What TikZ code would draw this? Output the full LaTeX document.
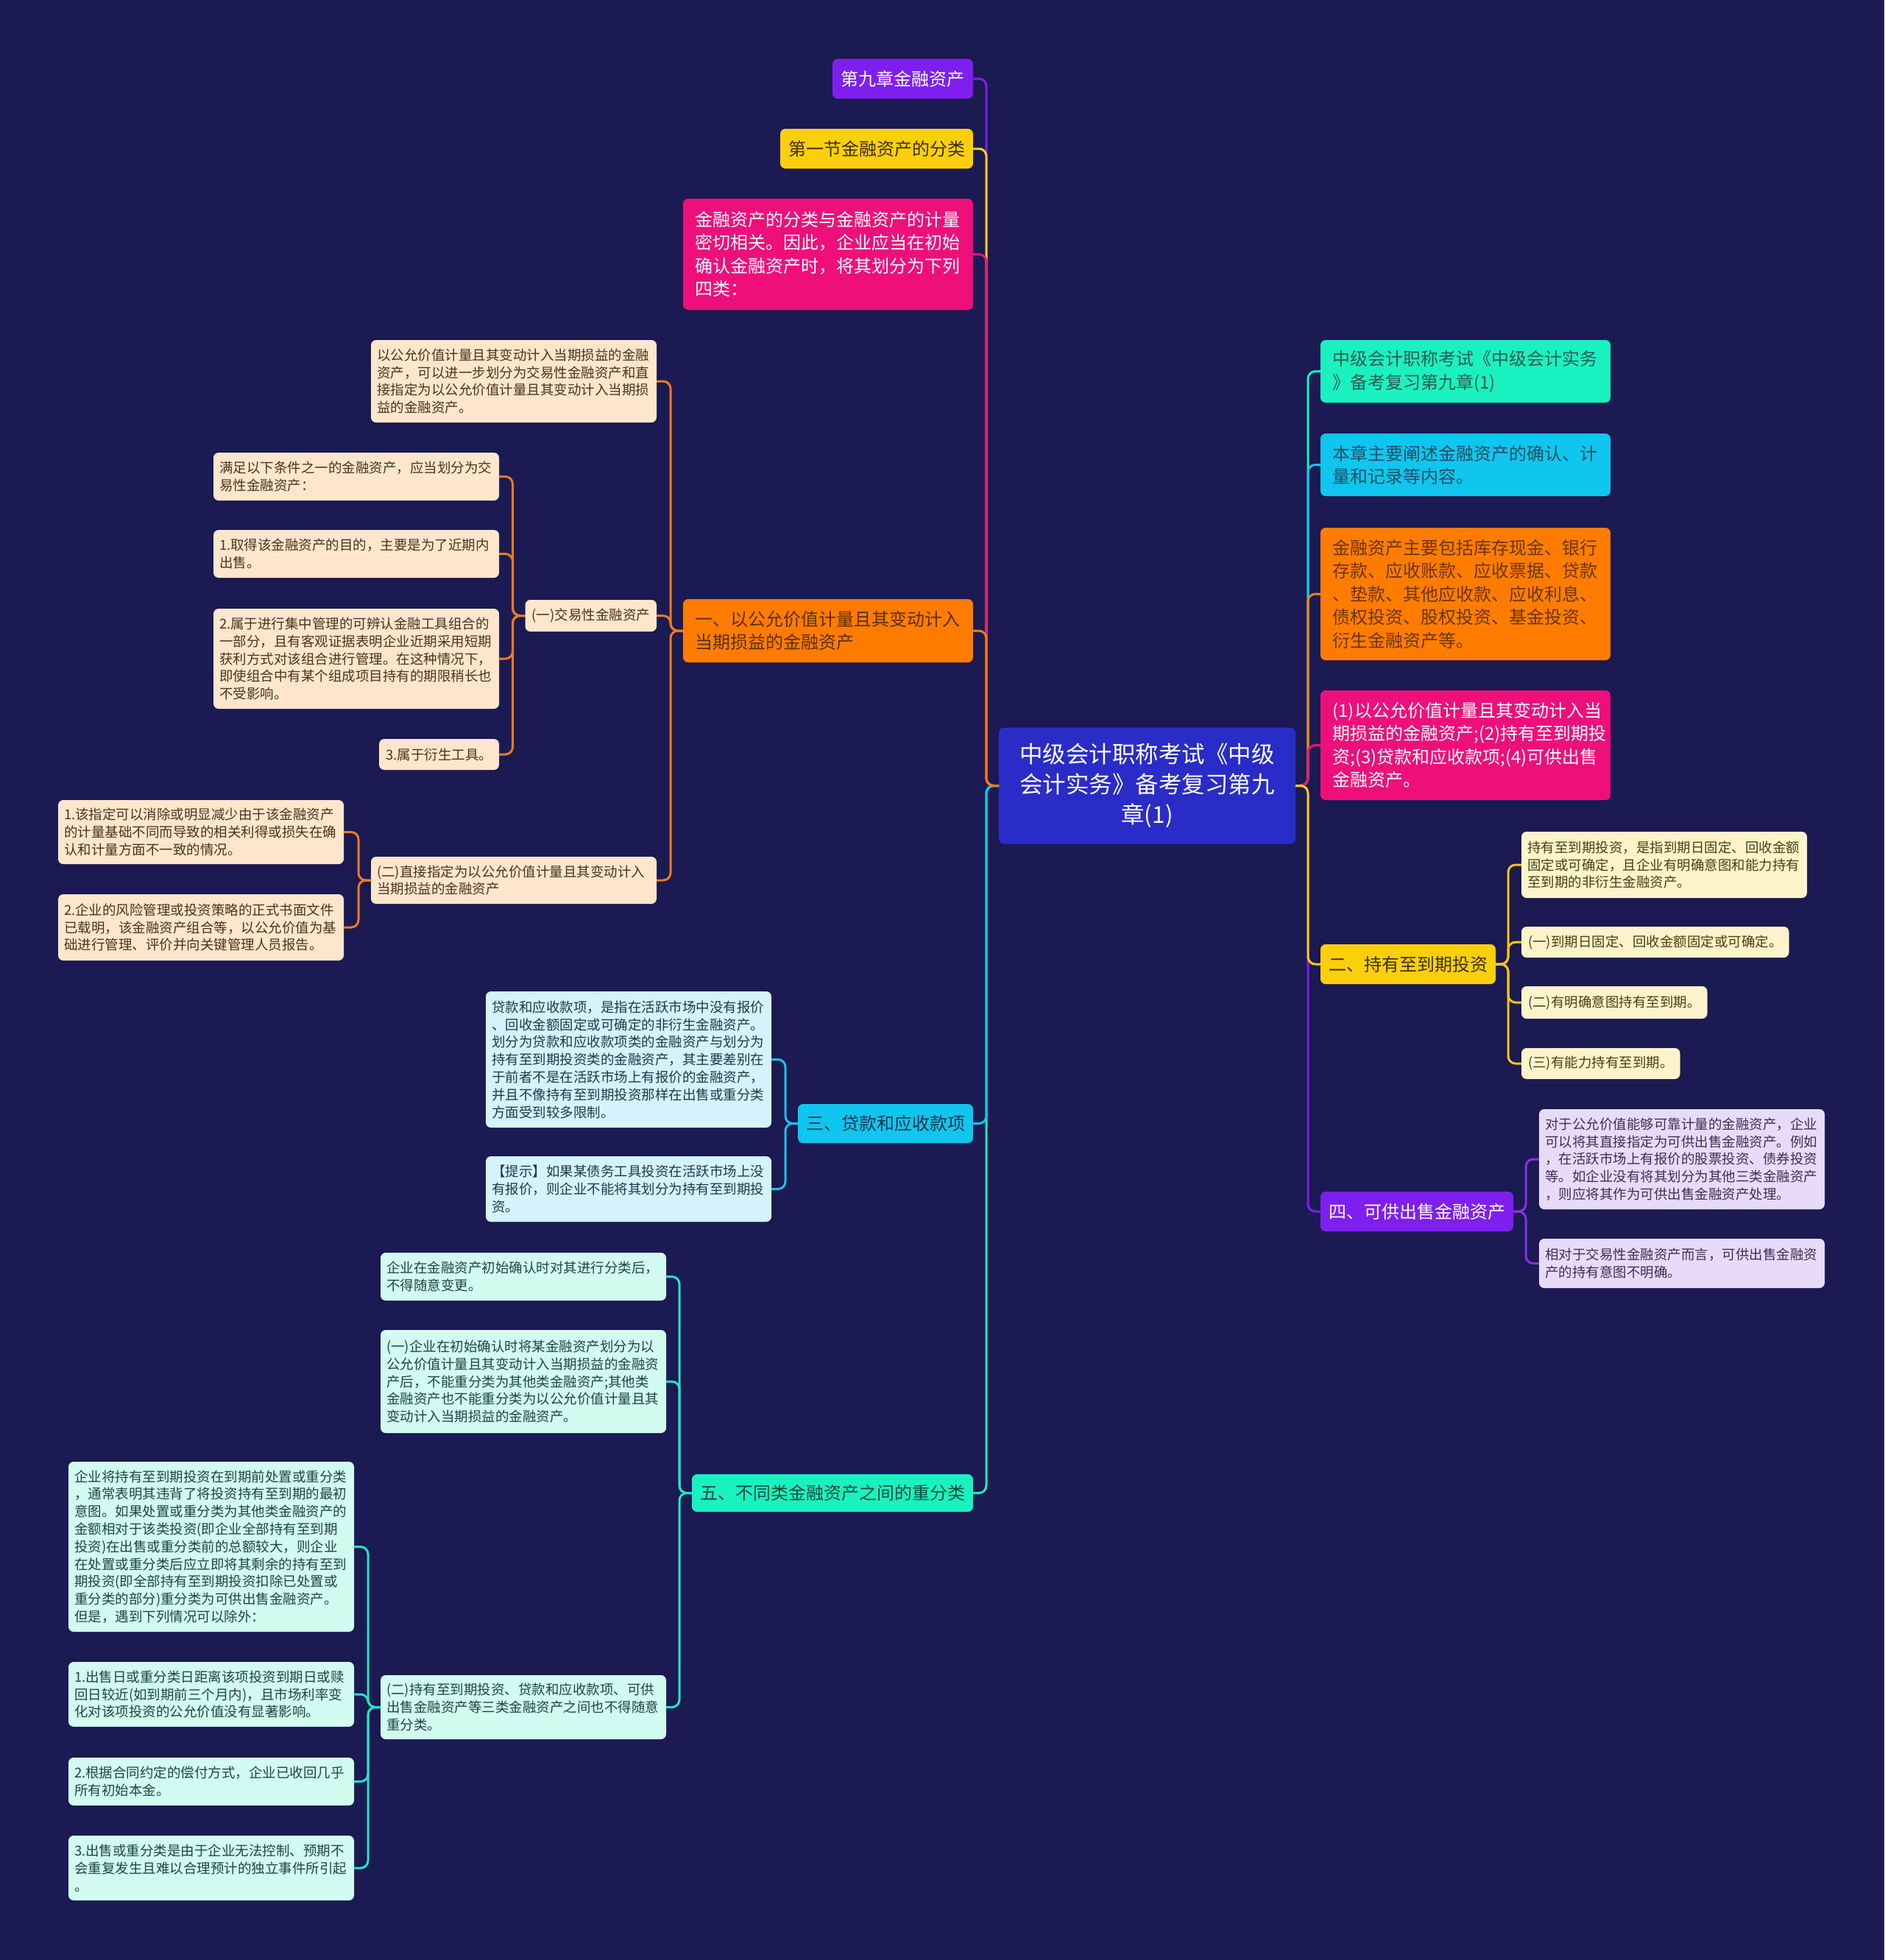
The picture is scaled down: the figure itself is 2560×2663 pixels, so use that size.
\documentclass[tikz,border=0pt]{standalone}
\usepackage{fontspec}
\newfontfamily\cjk{Noto Sans CJK SC}
\definecolor{bg}{HTML}{1B1A52}
\definecolor{cpurple}{HTML}{7E1FEF}
\definecolor{cyellow}{HTML}{FCCF0C}
\definecolor{cpink}{HTML}{EF0F7A}
\definecolor{corange}{HTML}{FF7C00}
\definecolor{ccyan}{HTML}{10C6EE}
\definecolor{cteal}{HTML}{19F2C0}
\definecolor{croot}{HTML}{2A2CC8}
\definecolor{lorange}{HTML}{FDE6CC}
\definecolor{lcyan}{HTML}{D4F3FB}
\definecolor{lteal}{HTML}{D2FCF0}
\definecolor{lyellow}{HTML}{FEF4CC}
\definecolor{lpurple}{HTML}{E7DBF9}
\definecolor{torange}{HTML}{4A3420}
\definecolor{tcyan}{HTML}{1F3A48}
\definecolor{tteal}{HTML}{1F4540}
\definecolor{tyellow}{HTML}{4A3F10}
\definecolor{tpurple}{HTML}{3F2E55}
\definecolor{kOrange}{HTML}{5A2E00}
\definecolor{kYellow}{HTML}{3A3000}
\definecolor{kCyan}{HTML}{0F3550}
\definecolor{kTeal}{HTML}{0F4A3A}
\definecolor{kTealR}{HTML}{2F5A50}
\definecolor{kCyanR}{HTML}{1F4F66}
\definecolor{kOrangeR}{HTML}{6A3500}
\definecolor{lnO}{HTML}{F07A20}
\definecolor{lnC}{HTML}{20C0EA}
\definecolor{lnT}{HTML}{20E6C4}
\definecolor{lnY}{HTML}{F5C810}
\definecolor{lnP}{HTML}{8A30E8}
\newcommand\myfsmall{\cjk\fontsize{18.5pt}{23.8pt}\selectfont}
\newcommand\myfmid{\cjk\fontsize{24pt}{31.5pt}\selectfont}
\newcommand\myfroot{\cjk\fontsize{31.5pt}{41pt}\selectfont}
\newcommand\myLC[3]{\draw[conn,#1] (#2.west) -- ++(-17,0) |- (#3.east);}
\newcommand\myRC[3]{\draw[conn,#1] (#2.east) -- ++(17,0) |- (#3.west);}
\begin{document}
\begin{tikzpicture}[x=1pt,y=-1pt,
  nd/.style={rounded corners=7pt, inner ysep=0pt, align=left, outer sep=0pt},
  smm/.style={nd, font=\myfsmall, text width=372pt, inner xsep=8pt},
  smone/.style={nd, font=\myfsmall, inner xsep=9pt, minimum height=42pt},
  mdm/.style={nd, font=\myfmid, text width=361pt, inner xsep=16.5pt},
  mdone/.style={nd, font=\myfmid, inner xsep=11pt, minimum height=54pt},
  boxO/.style={fill=lorange, text=torange},
  boxC/.style={fill=lcyan, text=tcyan},
  boxT/.style={fill=lteal, text=tteal},
  boxY/.style={fill=lyellow, text=tyellow},
  boxP/.style={fill=lpurple, text=tpurple},
  conn/.style={line width=3pt, rounded corners=10pt}]
\useasboundingbox (0,0) rectangle (2560,2663);
\fill[bg] (0,0) rectangle (2560,2663);

% root
\node[nd, fill=croot, text=white, font=\myfroot, text width=350pt, align=center,
  inner xsep=0pt, minimum width=403pt, minimum height=158pt] (root) at (1558.5,1067.5)
  {中级会计职称考试《中级\\会计实务》备考复习第九\\章(1)};

% left main
\node[mdone, fill=cpurple, text=white, inner xsep=11.5pt, anchor=east] (l1) at (1322,107) {第九章金融资产};
\node[mdone, fill=cyellow, text=kYellow, anchor=east] (l2) at (1322,202) {第一节金融资产的分类};
\node[mdm, fill=cpink, text=white, minimum height=151pt, anchor=east] (l3) at (1322,345.5)
  {金融资产的分类与金融资产的计量\\密切相关。因此，企业应当在初始\\确认金融资产时，将其划分为下列\\四类：};
\node[mdm, fill=corange, text=kOrange, minimum height=86pt, anchor=east] (a) at (1322,857)
  {一、以公允价值计量且其变动计入\\当期损益的金融资产};
\node[mdone, fill=ccyan, text=kCyan, minimum height=53pt, anchor=east] (c) at (1322,1526.5) {三、贷款和应收款项};
\node[mdone, fill=cteal, text=kTeal, minimum height=51pt, anchor=east] (e) at (1322,2028.5) {五、不同类金融资产之间的重分类};

% children of a
\node[smm, boxO, minimum height=112pt, anchor=east] (a1) at (892,518)
  {以公允价值计量且其变动计入当期损益的金融\\资产，可以进一步划分为交易性金融资产和直\\接指定为以公允价值计量且其变动计入当期损\\益的金融资产。};
\node[smone, boxO, minimum height=43pt, anchor=east] (a2) at (892,836.5) {(一)交易性金融资产};
\node[smm, boxO, minimum height=64pt, anchor=east] (a3) at (892,1196)
  {(二)直接指定为以公允价值计量且其变动计入\\当期损益的金融资产};

% children of a2
\node[smm, boxO, minimum height=65pt, anchor=east] (a21) at (678,647.5)
  {满足以下条件之一的金融资产，应当划分为交\\易性金融资产：};
\node[smm, boxO, minimum height=65pt, anchor=east] (a22) at (678,752.5)
  {1.取得该金融资产的目的，主要是为了近期内\\出售。};
\node[smm, boxO, minimum height=136pt, anchor=east] (a23) at (678,895)
  {2.属于进行集中管理的可辨认金融工具组合的\\一部分，且有客观证据表明企业近期采用短期\\获利方式对该组合进行管理。在这种情况下，\\即使组合中有某个组成项目持有的期限稍长也\\不受影响。};
\node[smone, boxO, anchor=east] (a24) at (678,1025) {3.属于衍生工具。};

% children of a3
\node[smm, boxO, minimum height=87pt, anchor=east] (a31) at (467,1130.5)
  {1.该指定可以消除或明显减少由于该金融资产\\的计量基础不同而导致的相关利得或损失在确\\认和计量方面不一致的情况。};
\node[smm, boxO, minimum height=90pt, anchor=east] (a32) at (467,1260)
  {2.企业的风险管理或投资策略的正式书面文件\\已载明，该金融资产组合等，以公允价值为基\\础进行管理、评价并向关键管理人员报告。};

% children of c
\node[smm, boxC, minimum height=185pt, anchor=east] (c1) at (1048,1439.5)
  {贷款和应收款项，是指在活跃市场中没有报价\\、回收金额固定或可确定的非衍生金融资产。\\划分为贷款和应收款项类的金融资产与划分为\\持有至到期投资类的金融资产，其主要差别在\\于前者不是在活跃市场上有报价的金融资产，\\并且不像持有至到期投资那样在出售或重分类\\方面受到较多限制。};
\node[smm, boxC, minimum height=89pt, anchor=east] (c2) at (1048,1615.5)
  {【提示】如果某债务工具投资在活跃市场上没\\有报价，则企业不能将其划分为持有至到期投\\资。};

% children of e
\node[smm, boxT, minimum height=65pt, anchor=east] (e1) at (905,1734.5)
  {企业在金融资产初始确认时对其进行分类后，\\不得随意变更。};
\node[smm, boxT, minimum height=140pt, anchor=east] (e2) at (905,1877)
  {(一)企业在初始确认时将某金融资产划分为以\\公允价值计量且其变动计入当期损益的金融资\\产后，不能重分类为其他类金融资产;其他类\\金融资产也不能重分类为以公允价值计量且其\\变动计入当期损益的金融资产。};
\node[smm, boxT, minimum height=87pt, anchor=east] (e3) at (905,2319.5)
  {(二)持有至到期投资、贷款和应收款项、可供\\出售金融资产等三类金融资产之间也不得随意\\重分类。};

% children of e3
\node[smm, boxT, minimum height=231pt, anchor=east] (e31) at (481,2101.5)
  {企业将持有至到期投资在到期前处置或重分类\\，通常表明其违背了将投资持有至到期的最初\\意图。如果处置或重分类为其他类金融资产的\\金额相对于该类投资(即企业全部持有至到期\\投资)在出售或重分类前的总额较大，则企业\\在处置或重分类后应立即将其剩余的持有至到\\期投资(即全部持有至到期投资扣除已处置或\\重分类的部分)重分类为可供出售金融资产。\\但是，遇到下列情况可以除外：};
\node[smm, boxT, minimum height=88pt, anchor=east] (e32) at (481,2302)
  {1.出售日或重分类日距离该项投资到期日或赎\\回日较近(如到期前三个月内)，且市场利率变\\化对该项投资的公允价值没有显著影响。};
\node[smm, boxT, minimum height=65pt, anchor=east] (e33) at (481,2420.5)
  {2.根据合同约定的偿付方式，企业已收回几乎\\所有初始本金。};
\node[smm, boxT, minimum height=88pt, anchor=east] (e34) at (481,2538)
  {3.出售或重分类是由于企业无法控制、预期不\\会重复发生且难以合理预计的独立事件所引起\\。};

% right main
\node[mdm, fill=cteal, text=kTealR, minimum height=85pt, anchor=west] (r1) at (1794,504.5)
  {中级会计职称考试《中级会计实务\\》备考复习第九章(1)};
\node[mdm, fill=ccyan, text=kCyanR, minimum height=85pt, anchor=west] (r2) at (1794,631.5)
  {本章主要阐述金融资产的确认、计\\量和记录等内容。};
\node[mdm, fill=corange, text=kOrangeR, minimum height=180pt, anchor=west] (r3) at (1794,807)
  {金融资产主要包括库存现金、银行\\存款、应收账款、应收票据、贷款\\、垫款、其他应收款、应收利息、\\债权投资、股权投资、基金投资、\\衍生金融资产等。};
\node[mdm, fill=cpink, text=white, minimum height=149pt, anchor=west] (r4) at (1794,1012.5)
  {(1)以公允价值计量且其变动计入当\\期损益的金融资产;(2)持有至到期投\\资;(3)贷款和应收款项;(4)可供出售\\金融资产。};
\node[mdone, fill=cyellow, text=kYellow, anchor=west] (b) at (1794,1310) {二、持有至到期投资};
\node[mdone, fill=cpurple, text=white, anchor=west] (d) at (1794,1646) {四、可供出售金融资产};

% children of b
\node[smm, boxY, minimum height=90pt, anchor=west] (b1) at (2067,1175)
  {持有至到期投资，是指到期日固定、回收金额\\固定或可确定，且企业有明确意图和能力持有\\至到期的非衍生金融资产。};
\node[smone, boxY, anchor=west] (b2) at (2067,1280) {(一)到期日固定、回收金额固定或可确定。};
\node[smone, boxY, minimum height=44pt, anchor=west] (b3) at (2067,1362) {(二)有明确意图持有至到期。};
\node[smone, boxY, anchor=west] (b4) at (2067,1445) {(三)有能力持有至到期。};

% children of d
\node[smm, boxP, minimum height=136pt, anchor=west] (d1) at (2091,1575)
  {对于公允价值能够可靠计量的金融资产，企业\\可以将其直接指定为可供出售金融资产。例如\\，在活跃市场上有报价的股票投资、债券投资\\等。如企业没有将其划分为其他三类金融资产\\，则应将其作为可供出售金融资产处理。};
\node[smm, boxP, minimum height=67pt, anchor=west] (d2) at (2091,1716.5)
  {相对于交易性金融资产而言，可供出售金融资\\产的持有意图不明确。};

% connectors from root (left)
\myLC{cpurple}{root}{l1}
\myLC{cyellow}{root}{l2}
\myLC{cpink}{root}{l3}
\myLC{cteal}{root}{e}
\myLC{ccyan}{root}{c}
\myLC{corange}{root}{a}
% connectors from root (right)
\myRC{cteal}{root}{r1}
\myRC{ccyan}{root}{r2}
\myRC{corange}{root}{r3}
\myRC{cpink}{root}{r4}
\myRC{cpurple}{root}{d}
\myRC{cyellow}{root}{b}
% orange subtree
\myLC{lnO}{a}{a1}
\myLC{lnO}{a}{a3}
\myLC{lnO}{a}{a2}
\myLC{lnO}{a2}{a21}
\myLC{lnO}{a2}{a24}
\myLC{lnO}{a2}{a22}
\myLC{lnO}{a2}{a23}
\myLC{lnO}{a3}{a31}
\myLC{lnO}{a3}{a32}
% cyan subtree
\myLC{lnC}{c}{c2}
\myLC{lnC}{c}{c1}
% teal subtree
\myLC{lnT}{e}{e1}
\myLC{lnT}{e}{e2}
\myLC{lnT}{e}{e3}
\myLC{lnT}{e3}{e31}
\myLC{lnT}{e3}{e34}
\myLC{lnT}{e3}{e32}
\myLC{lnT}{e3}{e33}
% yellow subtree
\myRC{lnY}{b}{b4}
\myRC{lnY}{b}{b1}
\myRC{lnY}{b}{b3}
\myRC{lnY}{b}{b2}
% purple subtree
\myRC{lnP}{d}{d1}
\myRC{lnP}{d}{d2}
\end{tikzpicture}
\end{document}
